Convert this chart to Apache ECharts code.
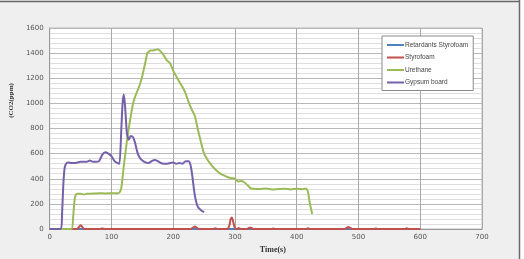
<!DOCTYPE html>
<html><head><meta charset="utf-8">
<script src="https://cdn.jsdelivr.net/npm/echarts@6/dist/echarts.min.js"></script>
<style>html,body{margin:0;padding:0;background:#fff}#c{width:524px;height:259px}</style>
</head><body><div id="c"></div>
<script>
var seriesNames = ['Retardants Styrofoam', 'Styrofoam', 'Urethane', 'Gypsum board'];
var xTicks = [0, 100, 200, 300, 400, 500, 600, 700];
var yTicks = [0, 200, 400, 600, 800, 1000, 1200, 1400, 1600];

var retardT = [0, 100, 200, 300, 400, 500, 600];
var retardV = [0, 0, 0, 0, 0, 0, 0];

var styroT = [0,44,48,50,52,56,80,85,90,228,232,235,238,242,265,268,272,288,291,293,295,297,300,303,306,309,320,323,326,329,360,362,365,415,418,422,478,481,484,487,490,525,528,531,575,578,582,600];
var styroV = [0,0,20,30,20,0,0,3,0,0,12,20,12,0,0,6,0,0,30,80,92,60,5,0,8,0,0,10,10,0,0,4,0,0,6,0,0,10,15,8,0,0,4,0,0,5,0,0];

var urethT = [0,35,38,40,42,45,50,55,60,70,80,90,100,110,113,116,120,125,130,135,138,142,146,150,155,158,160,163,166,170,175,178,182,185,190,195,200,205,210,215,220,225,230,235,240,245,250,255,260,265,270,275,280,285,290,295,300,305,310,315,320,325,330,340,350,360,370,380,390,400,410,415,418,421,425];
var urethV = [0,0,100,220,270,280,280,275,280,282,285,283,285,285,290,330,500,700,860,1000,1050,1100,1150,1220,1330,1400,1410,1420,1420,1425,1430,1420,1400,1380,1340,1320,1260,1215,1170,1130,1080,1010,950,900,790,690,600,555,520,490,465,445,430,420,410,405,400,378,382,372,350,325,320,318,322,315,318,320,315,320,317,322,300,210,120];

var gypT = [0,18,20,22,24,26,30,35,40,50,60,65,70,75,80,85,90,95,100,105,110,113,116,118,120,122,125,128,131,135,138,142,146,150,155,160,165,170,175,180,185,190,195,200,205,210,215,220,225,228,231,234,237,240,245,250];
var gypV = [0,0,120,350,480,515,530,525,525,535,535,545,535,535,540,590,610,600,580,540,525,520,800,1000,1070,980,760,710,740,730,690,610,565,545,530,525,540,550,540,525,520,520,525,530,520,525,520,540,540,510,420,300,220,175,150,135];

function pairs(t, v) { return t.map(function (x, i) { return [x, v[i]]; }); }

var colors = ['#4f81bd', '#c0504d', '#9bbb59', '#7560aa'];
var data = [pairs(retardT, retardV), pairs(styroT, styroV), pairs(urethT, urethV), pairs(gypT, gypV)];

var chart = echarts.init(document.getElementById('c'), null, {renderer: 'canvas'});
chart.setOption({
  animation: false,
  backgroundColor: '#efefef',
  color: colors,
  grid: {left: 43, right: 42, top: 28, bottom: 30, show: true, backgroundColor: '#ffffff', borderColor: '#b8b8b8', borderWidth: 1},
  legend: {
    orient: 'vertical', left: 382, top: 36,
    data: seriesNames,
    backgroundColor: '#ffffff', borderColor: '#8a8a8a', borderWidth: 1,
    padding: [5, 5, 4, 5],
    icon: 'rect', itemWidth: 17, itemHeight: 2, itemGap: 4.5,
    textStyle: {fontSize: 6.5, color: '#444', fontFamily: 'Liberation Sans', lineHeight: 8, padding: [0, 0, 0, -4]}
  },
  xAxis: {
    type: 'value', min: xTicks[0], max: xTicks[xTicks.length - 1], interval: 100,
    name: 'Time(s)', nameLocation: 'middle', nameGap: 16,
    nameTextStyle: {fontFamily: 'Liberation Serif', fontWeight: 'bold', fontSize: 8, color: '#333', padding: [0, 0, 0, 14]},
    axisLine: {lineStyle: {color: '#999'}},
    axisTick: {show: false},
    axisLabel: {fontSize: 7, color: '#555', margin: 5, fontFamily: 'DejaVu Sans', formatter: function (v) { return String(v); }},
    splitLine: {show: true, lineStyle: {color: '#a8a8a8', width: 1}}
  },
  yAxis: {
    type: 'value', min: yTicks[0], max: yTicks[yTicks.length - 1], interval: 200,
    name: '(CO2(ppm)', nameLocation: 'middle', nameGap: 29, nameRotate: 90,
    nameTextStyle: {fontFamily: 'Liberation Serif', fontWeight: 'bold', fontSize: 7, color: '#333', padding: [0, 0, 0, 56]},
    axisLine: {show: true, lineStyle: {color: '#999'}},
    axisTick: {show: false},
    axisLabel: {fontSize: 7, color: '#555', margin: 6, fontFamily: 'DejaVu Sans', formatter: function (v) { return String(v); }},
    splitLine: {show: true, lineStyle: {color: '#b8b8b8', width: 1}},
    minorTick: {show: false, splitNumber: 5},
    minorSplitLine: {show: true, lineStyle: {color: '#dedede', width: 1}}
  },
  series: seriesNames.map(function (n, i) {
    return {
      name: n, type: 'line', data: data[i], showSymbol: false, smooth: 0.2,
      lineStyle: {width: 2, color: colors[i]}, itemStyle: {color: colors[i]}
    };
  }),
  graphic: [
    {type: 'rect', left: 520, top: 0, shape: {width: 4, height: 259}, style: {fill: '#ffffff'}},
    {type: 'line', shape: {x1: 0, y1: 1.5, x2: 520, y2: 1.5}, style: {stroke: '#6a6a6a', lineWidth: 1.5}},
    {type: 'line', shape: {x1: 519.5, y1: 0, x2: 519.5, y2: 259}, style: {stroke: '#6a6a6a', lineWidth: 1.5}}
  ]
});
</script>
</body></html>
